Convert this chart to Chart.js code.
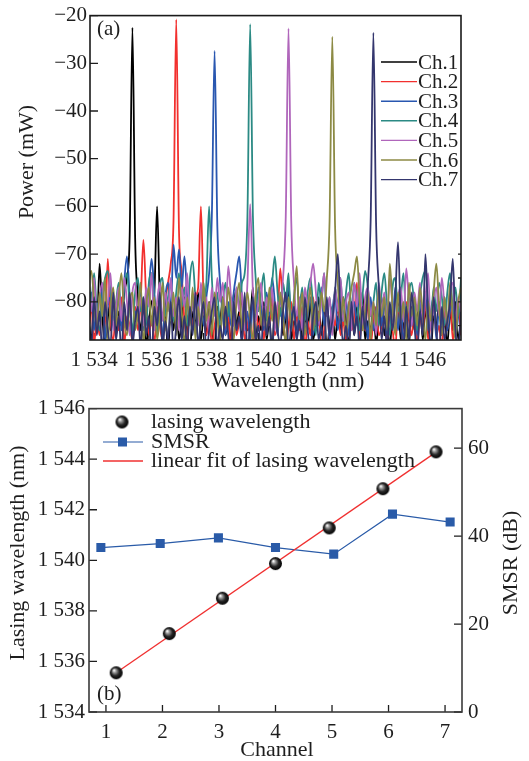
<!DOCTYPE html>
<html>
<head>
<meta charset="utf-8">
<title>Lasing spectra and wavelength</title>
<script src="https://cdn.jsdelivr.net/npm/chart.js"></script>
<style>
  body { margin: 0; background: #fff; }
  #wrap { position: relative; width: 529px; height: 761px; }
  canvas { position: absolute; left: 0; }
  #specChart { top: 0; }
  #fitChart { top: 390px; }
</style>
</head>
<body>
<div id="wrap">
  <canvas id="specChart" width="529" height="395"></canvas>
  <canvas id="fitChart" width="529" height="371"></canvas>
</div>
<script>
// ---- panel (a): spectra, sampled every 0.1 nm ----
const wavelengths = [
  1533.8,1533.9,1534.0,1534.1,1534.2,1534.3,1534.4,1534.5,1534.6,1534.7,
  1534.8,1534.9,1535.0,1535.1,1535.2,1535.3,1535.4,1535.5,1535.6,1535.7,
  1535.8,1535.9,1536.0,1536.1,1536.2,1536.3,1536.4,1536.5,1536.6,1536.7,
  1536.8,1536.9,1537.0,1537.1,1537.2,1537.3,1537.4,1537.5,1537.6,1537.7,
  1537.8,1537.9,1538.0,1538.1,1538.2,1538.3,1538.4,1538.5,1538.6,1538.7,
  1538.8,1538.9,1539.0,1539.1,1539.2,1539.3,1539.4,1539.5,1539.6,1539.7,
  1539.8,1539.9,1540.0,1540.1,1540.2,1540.3,1540.4,1540.5,1540.6,1540.7,
  1540.8,1540.9,1541.0,1541.1,1541.2,1541.3,1541.4,1541.5,1541.6,1541.7,
  1541.8,1541.9,1542.0,1542.1,1542.2,1542.3,1542.4,1542.5,1542.6,1542.7,
  1542.8,1542.9,1543.0,1543.1,1543.2,1543.3,1543.4,1543.5,1543.6,1543.7,
  1543.8,1543.9,1544.0,1544.1,1544.2,1544.3,1544.4,1544.5,1544.6,1544.7,
  1544.8,1544.9,1545.0,1545.1,1545.2,1545.3,1545.4,1545.5,1545.6,1545.7,
  1545.8,1545.9,1546.0,1546.1,1546.2,1546.3,1546.4,1546.5,1546.6,1546.7,
  1546.8,1546.9,1547.0,1547.1,1547.2,1547.3,1547.4
];

const ch1 = [
  -84,-88,-80,-86,-72,-83,-89,-81,-86,-79,
  -87,-82,-85,-78,-75,-66,-22.5,-67,-79,-86,
  -81,-89,-84,-80,-78,-60,-80,-87,-83,-90,
  -82,-86,-80,-88,-84,-79,-86,-91,-82,-85,
  -78,-88,-83,-87,-80,-86,-90,-81,-84,-79,
  -87,-83,-89,-78,-85,-82,-88,-80,-86,-84,
  -77,-89,-83,-86,-80,-88,-84,-90,-82,-85,
  -79,-87,-83,-77,-88,-84,-86,-81,-89,-83,
  -86,-80,-88,-84,-79,-87,-82,-90,-85,-81,
  -88,-83,-86,-79,-84,-89,-82,-87,-80,-85,
  -78,-88,-84,-86,-81,-89,-83,-79,-87,-84,
  -90,-82,-86,-80,-88,-85,-83,-89,-81,-86,
  -84,-79,-88,-82,-86,-90,-83,-85,-80,-87,
  -84,-89,-82,-86,-80,-88,-84
];
const ch2 = [
  -86,-81,-89,-83,-87,-80,-85,-71,-84,-88,
  -82,-86,-79,-89,-83,-85,-88,-81,-86,-80,
  -67,-79,-87,-83,-89,-81,-85,-88,-80,-76,
  -72,-63,-20.8,-65,-74,-84,-88,-81,-86,-79,
  -77,-60,-80,-87,-83,-89,-85,-82,-88,-80,
  -86,-83,-90,-81,-87,-84,-79,-88,-85,-82,
  -89,-80,-86,-83,-88,-81,-85,-79,-87,-84,
  -73,-82,-89,-85,-80,-88,-83,-86,-81,-90,
  -84,-87,-79,-85,-82,-89,-86,-80,-88,-83,
  -85,-81,-87,-84,-89,-80,-86,-83,-76,-88,
  -82,-86,-80,-89,-84,-81,-87,-85,-79,-88,
  -83,-86,-90,-81,-85,-88,-80,-84,-87,-82,
  -89,-83,-86,-80,-88,-84,-81,-87,-85,-90,
  -82,-86,-79,-88,-84,-81,-87
];
const ch3 = [
  -82,-78,-86,-80,-84,-77,-88,-81,-79,-85,
  -83,-78,-86,-76,-70.5,-79,-87,-82,-84,-78,
  -86,-80,-77,-71,-78,-85,-81,-88,-79,-76,
  -82,-68,-75,-69,-77,-70.5,-79,-84,-80,-86,
  -81,-78,-85,-79,-74,-62,-27.4,-64,-76,-83,
  -87,-80,-85,-78,-74,-70.5,-79,-86,-82,-88,
  -80,-84,-77,-81,-86,-78,-83,-75,-80,-87,
  -79,-85,-82,-76,-84,-80,-88,-81,-78,-86,
  -83,-79,-87,-81,-84,-77,-85,-80,-88,-82,
  -78,-86,-81,-84,-79,-87,-83,-80,-85,-77,
  -84,-81,-88,-79,-86,-82,-78,-85,-80,-87,
  -81,-84,-77,-86,-80,-88,-83,-79,-85,-81,
  -87,-80,-84,-78,-86,-82,-79,-88,-81,-85,
  -79,-86,-82,-80,-87,-83,-78
];
const ch4 = [
  -76,-80,-74,-82,-86,-79,-75,-73.5,-78,-84,
  -80,-76,-83,-77,-74,-81,-86,-78,-75,-82,
  -79,-85,-76,-74,-80,-87,-77,-75,-83,-79,
  -76,-84,-78,-74,-81,-77,-85,-75,-71.5,-79,
  -83,-77,-80,-76,-60,-75,-82,-78,-86,-80,
  -76,-83,-79,-85,-77,-81,-76,-74,-62,-21.8,
  -62,-75,-82,-78,-74,-84,-79,-76,-70.5,-78,
  -83,-76,-80,-74,-86,-79,-75,-82,-77,-84,
  -78,-75,-81,-87,-76,-80,-74,-83,-79,-85,
  -77,-81,-75,-84,-78,-74,-82,-76,-80,-86,
  -79,-73.5,-77,-83,-80,-76,-85,-78,-74,-81,
  -87,-77,-75,-82,-79,-74,-84,-78,-76,-81,
  -86,-79,-75,-73.5,-80,-84,-77,-82,-76,-79,
  -85,-78,-74,-81,-77,-83,-75
];
const ch5 = [
  -78,-82,-75,-85,-79,-76,-83,-80,-74,-86,
  -81,-77,-84,-75,-80,-87,-78,-76,-83,-79,
  -85,-77,-81,-74,-86,-80,-76,-84,-78,-82,
  -75,-83,-79,-86,-77,-81,-74,-84,-80,-78,
  -85,-76,-82,-79,-87,-77,-83,-75,-80,-76,
  -84,-72.5,-79,-85,-77,-82,-78,-86,-76,-59.5,
  -78,-84,-80,-76,-85,-79,-82,-77,-86,-80,
  -81,-75,-62,-22.7,-63,-76,-83,-79,-86,-77,
  -81,-76,-72,-78,-85,-80,-74,-83,-79,-87,
  -77,-82,-75,-84,-80,-78,-86,-76,-81,-74,
  -85,-79,-77,-83,-80,-87,-76,-82,-78,-84,
  -75,-81,-86,-79,-77,-84,-73,-80,-85,-78,
  -82,-76,-84,-79,-74,-86,-80,-77,-83,-75,
  -81,-85,-78,-76,-84,-79,-82
];
const ch6 = [
  -76,-73.5,-80,-86,-78,-83,-75,-88,-81,-77,
  -85,-79,-74,-84,-87,-80,-78,-86,-82,-76,
  -89,-81,-77,-85,-79,-88,-83,-76,-86,-80,
  -84,-78,-87,-75,-82,-89,-79,-85,-77,-88,
  -81,-86,-76,-84,-80,-87,-78,-83,-89,-79,
  -85,-77,-82,-88,-80,-76,-86,-83,-78,-84,
  -88,-79,-75,-85,-81,-87,-77,-84,-80,-86,
  -78,-83,-89,-79,-85,-80,-72.5,-84,-78,-87,
  -82,-77,-86,-80,-84,-78,-82,-75,-63,-24.4,
  -64,-76,-84,-79,-87,-81,-77,-74,-70.5,-80,
  -86,-82,-78,-88,-80,-85,-77,-83,-79,-86,
  -72,-81,-87,-78,-84,-80,-88,-76,-83,-79,
  -85,-77,-82,-88,-80,-84,-78,-72,-81,-87,
  -79,-85,-76,-83,-88,-80,-77
];
const ch7 = [
  -84,-90,-79,-87,-82,-91,-80,-86,-89,-78,
  -88,-83,-91,-80,-86,-78,-89,-84,-81,-90,
  -79,-87,-83,-92,-81,-85,-78,-90,-84,-88,
  -80,-91,-85,-79,-88,-83,-90,-81,-87,-78,
  -89,-84,-80,-91,-86,-82,-79,-90,-85,-88,
  -81,-87,-92,-80,-86,-83,-89,-78,-91,-84,
  -79,-88,-85,-90,-81,-87,-83,-92,-80,-86,
  -89,-82,-78,-90,-85,-81,-88,-84,-91,-79,
  -86,-90,-83,-80,-88,-85,-91,-79,-87,-84,
  -78,-70,-82,-89,-85,-91,-80,-87,-83,-90,
  -81,-86,-76,-63,-23.6,-64,-77,-88,-83,-90,
  -80,-86,-79,-67.5,-84,-90,-81,-88,-78,-85,
  -91,-82,-87,-70,-83,-89,-79,-86,-92,-81,
  -88,-84,-80,-71,-86,-90,-82
];

const channelNames = ['Ch.1', 'Ch.2', 'Ch.3', 'Ch.4', 'Ch.5', 'Ch.6', 'Ch.7'];
const channelColors = ['#000000', '#f2302e', '#2957b0', '#2b8a84', '#b066bb', '#8c8a44', '#34366e'];
const spectra = [ch1, ch2, ch3, ch4, ch5, ch6, ch7];
const powerTicksRight = [-85, -80, -75, -70];

// ---- panel (b): lasing wavelength and SMSR per channel ----
const channelTicks = [1, 2, 3, 4, 5, 6, 7];
const lasingPos = [1.18, 2.12, 3.06, 4.0, 4.95, 5.9, 6.84];
const lasingWl = [1535.55, 1537.1, 1538.5, 1539.87, 1541.28, 1542.83, 1544.29];
const smsrPos = [0.91, 1.96, 2.99, 4.0, 5.03, 6.07, 7.09];
const smsr = [37.4, 38.3, 39.6, 37.4, 35.9, 45.0, 43.2];
const fitPos = [1.18, 6.79];
const fitWl = [1535.55, 1544.2];

const SERIF = '"Liberation Serif", "DejaVu Serif", serif';
const INK = '#1e1e1e';
Chart.defaults.font.family = SERIF;
Chart.defaults.color = INK;

function sep(v) {
  // "1534" -> "1 534"
  const s = String(v);
  return s.length > 3 ? s.slice(0, s.length - 3) + ' ' + s.slice(-3) : s;
}
function minus(v) {
  return v < 0 ? '\u2212' + (-v) : String(v);
}

function makeSphere(r) {
  const c = document.createElement('canvas');
  c.width = c.height = 2 * r + 2;
  const g = c.getContext('2d');
  const cx = r + 1, cy = r + 1;
  const grad = g.createRadialGradient(cx - r * 0.35, cy - r * 0.4, 0.4, cx, cy, r);
  grad.addColorStop(0, '#ffffff');
  grad.addColorStop(0.22, '#a0a0a0');
  grad.addColorStop(0.6, '#262626');
  grad.addColorStop(1, '#000000');
  g.fillStyle = grad;
  g.beginPath();
  g.arc(cx, cy, r, 0, Math.PI * 2);
  g.fill();
  return c;
}
const sphere = makeSphere(6.5);

// inward tick marks along one side of the plot box
function inTicks(chart, scaleId, side, len, values) {
  const ctx = chart.ctx, a = chart.chartArea, sc = chart.scales[scaleId];
  const vals = values || sc.ticks.map(t => t.value);
  ctx.save();
  ctx.strokeStyle = INK;
  ctx.lineWidth = 1.3;
  ctx.beginPath();
  vals.forEach(v => {
    const p = sc.getPixelForValue(v);
    if (side === 'left') { ctx.moveTo(a.left, p); ctx.lineTo(a.left + len, p); }
    if (side === 'right') { ctx.moveTo(a.right, p); ctx.lineTo(a.right - len, p); }
    if (side === 'bottom') { ctx.moveTo(p, a.bottom); ctx.lineTo(p, a.bottom - len); }
  });
  ctx.stroke();
  ctx.restore();
}
function frame(chart, color) {
  const ctx = chart.ctx, a = chart.chartArea;
  ctx.save();
  ctx.strokeStyle = color;
  ctx.lineWidth = 1.6;
  ctx.strokeRect(a.left, a.top, a.right - a.left, a.bottom - a.top);
  ctx.restore();
}
function text(ctx, str, x, y, size, rot, align) {
  ctx.save();
  ctx.translate(x, y);
  if (rot) ctx.rotate(rot);
  ctx.font = size + 'px ' + SERIF;
  ctx.fillStyle = INK;
  ctx.textAlign = align || 'center';
  ctx.textBaseline = 'middle';
  ctx.fillText(str, 0, 0);
  ctx.restore();
}

// ---------- chart (a) ----------
const specDecor = {
  id: 'specDecor',
  beforeDatasetsDraw(chart) {
    inTicks(chart, 'x', 'bottom', 7);
  },
  afterDatasetsDraw(chart) {
    inTicks(chart, 'y', 'left', 8);
    inTicks(chart, 'y', 'right', 3, powerTicksRight);
    frame(chart, '#1a1a1a');
  },
  afterDraw(chart) {
    const ctx = chart.ctx;
    text(ctx, '(a)', 97, 29, 21, 0, 'left');
    text(ctx, 'Power (mW)', 27, 162, 22, -Math.PI / 2);
    text(ctx, 'Wavelength (nm)', 288, 381, 22);
    // legend
    channelNames.forEach((name, i) => {
      const y = 62 + i * 19.6;
      ctx.save();
      ctx.strokeStyle = channelColors[i];
      ctx.lineWidth = 1.4;
      ctx.beginPath();
      ctx.moveTo(381, y);
      ctx.lineTo(417, y);
      ctx.stroke();
      ctx.restore();
      text(ctx, name, 418, y + 1, 21, 0, 'left');
    });
  }
};

new Chart(document.getElementById('specChart'), {
  type: 'line',
  data: {
    datasets: spectra.map((vals, i) => ({
      label: channelNames[i],
      data: wavelengths.map((w, k) => ({ x: w, y: vals[k] })),
      borderColor: channelColors[i],
      borderWidth: 1.8,
      pointRadius: 0,
      cubicInterpolationMode: 'monotone',
      order: 7 - i
    }))
  },
  options: {
    responsive: false,
    animation: false,
    layout: { padding: { top: 11, right: 68, left: 0, bottom: 0 } },
    plugins: { legend: { display: false }, tooltip: { enabled: false } },
    scales: {
      x: {
        type: 'linear',
        min: 1533.85,
        max: 1547.4,
        grid: { display: false, drawTicks: false },
        border: { display: false },
        ticks: { stepSize: 2, includeBounds: false, padding: 8, font: { size: 21 }, color: INK,
                 maxRotation: 0, autoSkip: false, callback: v => sep(v) },
        afterFit: s => { s.height = 55; }
      },
      y: {
        min: -88,
        max: -20,
        grid: { display: false, drawTicks: false },
        border: { display: false },
        ticks: { stepSize: 10, includeBounds: false, padding: 3, font: { size: 21 }, color: INK,
                 callback: v => minus(v) },
        afterFit: s => { s.width = 90; }
      }
    }
  },
  plugins: [specDecor]
});

// ---------- chart (b) ----------
const fitDecor = {
  id: 'fitDecor',
  afterDatasetsDraw(chart) {
    inTicks(chart, 'x', 'bottom', 7, channelTicks);
    inTicks(chart, 'y', 'left', 8);
    inTicks(chart, 'y2', 'right', 8);
    frame(chart, '#3a3a3a');
  },
  afterDraw(chart) {
    const ctx = chart.ctx;
    text(ctx, '(b)', 97, 304, 21, 0, 'left');
    text(ctx, 'Lasing wavelength (nm)', 18, 163, 22, -Math.PI / 2);
    text(ctx, 'SMSR (dB)', 511, 173, 22, -Math.PI / 2);
    text(ctx, 'Channel', 277, 360, 22);
    // legend
    ctx.drawImage(sphere, 122 - sphere.width / 2, 32 - sphere.height / 2);
    text(ctx, 'lasing wavelength', 151, 32, 22, 0, 'left');
    ctx.save();
    ctx.strokeStyle = '#2a5ba8';
    ctx.lineWidth = 1.2;
    ctx.beginPath(); ctx.moveTo(103, 52); ctx.lineTo(143, 52); ctx.stroke();
    ctx.fillStyle = '#2a5ba8';
    ctx.fillRect(118, 47.5, 9, 9);
    ctx.strokeStyle = '#f03030';
    ctx.lineWidth = 1.3;
    ctx.beginPath(); ctx.moveTo(103, 71); ctx.lineTo(143, 71); ctx.stroke();
    ctx.restore();
    text(ctx, 'SMSR', 151, 52, 22, 0, 'left');
    text(ctx, 'linear fit of lasing wavelength', 151, 71, 22, 0, 'left');
  }
};

new Chart(document.getElementById('fitChart'), {
  type: 'line',
  data: {
    datasets: [
      {
        label: 'lasing wavelength',
        data: lasingPos.map((x, i) => ({ x, y: lasingWl[i] })),
        showLine: false,
        pointStyle: sphere,
        yAxisID: 'y',
        order: 0
      },
      {
        label: 'linear fit of lasing wavelength',
        data: fitPos.map((x, i) => ({ x, y: fitWl[i] })),
        borderColor: '#f03030',
        borderWidth: 1.3,
        pointRadius: 0,
        yAxisID: 'y',
        order: 1
      },
      {
        label: 'SMSR',
        data: smsrPos.map((x, i) => ({ x, y: smsr[i] })),
        borderColor: '#2a5ba8',
        backgroundColor: '#2a5ba8',
        borderWidth: 1.2,
        pointStyle: 'rect',
        pointRadius: 6.4,
        pointBorderWidth: 0,
        yAxisID: 'y2',
        order: 2
      }
    ]
  },
  options: {
    responsive: false,
    animation: false,
    layout: { padding: { top: 18, right: 0, left: 0, bottom: 0 } },
    plugins: { legend: { display: false }, tooltip: { enabled: false } },
    scales: {
      x: {
        type: 'linear',
        min: 0.7,
        max: 7.3,
        grid: { display: false, drawTicks: false },
        border: { display: false },
        ticks: { stepSize: 1, includeBounds: false, padding: 8, font: { size: 21 }, color: INK },
        afterFit: s => { s.height = 49; }
      },
      y: {
        position: 'left',
        min: 1534,
        max: 1546,
        grid: { display: false, drawTicks: false },
        border: { display: false },
        ticks: { stepSize: 2, padding: 4, font: { size: 21 }, color: INK, callback: v => sep(v) },
        afterFit: s => { s.width = 89; }
      },
      y2: {
        position: 'right',
        min: 0,
        max: 69,
        grid: { display: false, drawTicks: false },
        border: { display: false },
        ticks: { stepSize: 20, includeBounds: false, padding: 6, font: { size: 21 }, color: INK },
        afterFit: s => { s.width = 67; }
      }
    }
  },
  plugins: [fitDecor]
});
</script>
</body>
</html>
